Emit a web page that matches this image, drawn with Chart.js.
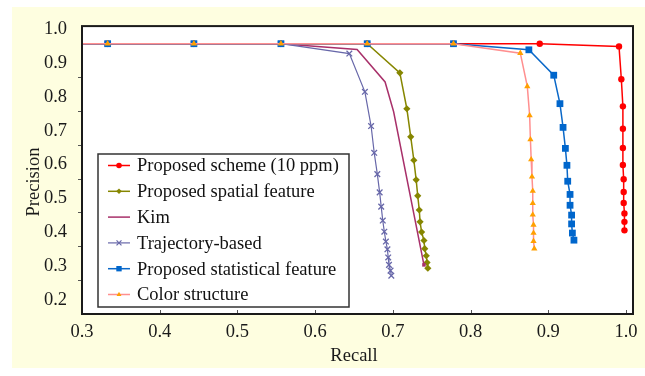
<!DOCTYPE html>
<html>
<head>
<meta charset="utf-8">
<script src="https://cdn.jsdelivr.net/npm/chart.js@4.4.0/dist/chart.umd.min.js"></script>
<style>
  html, body { margin: 0; padding: 0; background: #fff; }
  #wrap { position: relative; width: 645px; height: 376px; }
  #paper { position: absolute; left: 12px; top: 7px; width: 633px; height: 361px; background: #fefee0; }
  #chart { position: absolute; left: 0; top: 0; }
</style>
</head>
<body>
<div id="wrap">
  <div id="paper"></div>
  <canvas id="chart" width="645" height="376"></canvas>
</div>
<script>
// axis ticks
const xTicks = [0.3, 0.4, 0.5, 0.6, 0.7, 0.8, 0.9, 1.0];
const yTicks = [0.2, 0.3, 0.4, 0.5, 0.6, 0.7, 0.8, 0.9, 1.0];
const yMarks = [0.25, 0.35, 0.45, 0.55, 0.65, 0.75, 0.85];

// Proposed scheme (10 ppm)
const schemeRecall = [0.222, 0.333, 0.444, 0.556, 0.667, 0.778, 0.889, 0.991, 0.994, 0.996, 0.996, 0.996, 0.996, 0.997, 0.997, 0.997, 0.998, 0.998, 0.998];
const schemePrecision = [0.948, 0.948, 0.948, 0.948, 0.948, 0.948, 0.948, 0.940, 0.843, 0.763, 0.697, 0.640, 0.590, 0.548, 0.510, 0.478, 0.447, 0.422, 0.397];

// Proposed spatial feature
const spatialRecall = [0.222, 0.333, 0.444, 0.556, 0.667, 0.709, 0.718, 0.723, 0.727, 0.730, 0.732, 0.734, 0.735, 0.737, 0.740, 0.741, 0.743, 0.744, 0.745];
const spatialPrecision = [0.948, 0.948, 0.948, 0.948, 0.948, 0.862, 0.756, 0.673, 0.604, 0.546, 0.499, 0.457, 0.422, 0.392, 0.367, 0.343, 0.322, 0.302, 0.285];

// Kim
const kimRecall = [0.222, 0.333, 0.444, 0.556, 0.654, 0.690, 0.701, 0.740];
const kimPrecision = [0.948, 0.948, 0.948, 0.948, 0.931, 0.835, 0.747, 0.295];

// Trajectory-based
const trajRecall = [0.222, 0.333, 0.444, 0.556, 0.644, 0.664, 0.672, 0.676, 0.680, 0.683, 0.685, 0.687, 0.689, 0.691, 0.693, 0.694, 0.695, 0.697, 0.698];
const trajPrecision = [0.948, 0.948, 0.948, 0.948, 0.919, 0.806, 0.705, 0.626, 0.563, 0.509, 0.467, 0.426, 0.393, 0.364, 0.341, 0.317, 0.295, 0.278, 0.263];

// Proposed statistical feature
const statRecall = [0.222, 0.333, 0.444, 0.556, 0.667, 0.778, 0.875, 0.907, 0.915, 0.919, 0.922, 0.924, 0.925, 0.928, 0.928, 0.930, 0.930, 0.931, 0.933];
const statPrecision = [0.948, 0.948, 0.948, 0.948, 0.948, 0.948, 0.930, 0.855, 0.771, 0.701, 0.639, 0.589, 0.542, 0.503, 0.471, 0.442, 0.416, 0.389, 0.368];

// Color structure
const colorRecall = [0.222, 0.333, 0.444, 0.556, 0.667, 0.778, 0.864, 0.873, 0.876, 0.877, 0.878, 0.879, 0.880, 0.880, 0.880, 0.881, 0.881, 0.881, 0.882];
const colorPrecision = [0.948, 0.948, 0.948, 0.948, 0.948, 0.948, 0.920, 0.822, 0.736, 0.665, 0.606, 0.555, 0.513, 0.477, 0.443, 0.413, 0.389, 0.365, 0.343];

const serif = '"Liberation Serif", "Times New Roman", serif';
const fontSize = 18.5;

function pairs(xs, ys) {
    return xs.map((x, i) => ({ x: x, y: ys[i] }));
}

const datasets = [
    {
        label: 'Proposed scheme (10 ppm)',
        data: pairs(schemeRecall, schemePrecision),
        borderColor: '#ff0000', backgroundColor: '#ff0000',
        borderWidth: 1.5, pointStyle: 'circle', pointRadius: 3.2, pointBorderWidth: 0,
        order: 5
    },
    {
        label: 'Proposed spatial feature',
        data: pairs(spatialRecall, spatialPrecision),
        borderColor: '#868600', backgroundColor: '#868600',
        borderWidth: 1.5, pointStyle: 'rectRot', pointRadius: 3.6, pointBorderWidth: 0,
        order: 4
    },
    {
        label: 'Kim',
        data: pairs(kimRecall, kimPrecision),
        borderColor: '#a8306a', backgroundColor: '#a8306a',
        borderWidth: 1.5, pointStyle: 'rect',
        pointRadius: kimRecall.map((v, i) => i === kimRecall.length - 1 ? 2.5 : 0), pointBorderWidth: 0,
        order: 3
    },
    {
        label: 'Trajectory-based',
        data: pairs(trajRecall, trajPrecision),
        borderColor: '#6767a9', backgroundColor: '#6767a9',
        borderWidth: 1.2, pointStyle: 'crossRot', pointRadius: 4, pointBorderWidth: 1.3,
        order: 2
    },
    {
        label: 'Proposed statistical feature',
        data: pairs(statRecall, statPrecision),
        borderColor: '#0a68c8', backgroundColor: '#0066cc',
        borderWidth: 1.5, pointStyle: 'rect', pointRadius: 4.8, pointBorderWidth: 0,
        order: 1
    },
    {
        label: 'Color structure',
        data: pairs(colorRecall, colorPrecision),
        borderColor: '#ff8f8f', backgroundColor: '#ffa000',
        borderWidth: 1.5, pointStyle: 'triangle', pointRadius: 3.6, pointBorderWidth: 0,
        order: 0
    }
];

const frame = {
    id: 'frame',
    beforeDatasetsDraw(chart) {
        const a = chart.chartArea, c = chart.ctx;
        c.save();
        c.fillStyle = '#ffffff';
        c.fillRect(a.left, a.top, a.right - a.left, a.bottom - a.top);
        c.restore();
    },
    afterDraw(chart) {
        const a = chart.chartArea, c = chart.ctx;
        const xs = chart.scales.x, ys = chart.scales.y;
        c.save();
        // tick marks
        c.strokeStyle = '#555';
        c.lineWidth = 1;
        xTicks.slice(1).forEach(v => {
            const px = Math.round(xs.getPixelForValue(v)) + 0.5;
            c.beginPath(); c.moveTo(px, a.bottom); c.lineTo(px, a.bottom - 4); c.stroke();
        });
        yMarks.forEach(v => {
            const py = Math.round(ys.getPixelForValue(v)) + 0.5;
            c.beginPath(); c.moveTo(a.left, py); c.lineTo(a.left - 4, py); c.stroke();
        });
        // plot border
        c.strokeStyle = '#1a1a1a';
        c.lineWidth = 2;
        c.strokeRect(a.left, a.top, a.right - a.left, a.bottom - a.top);

        // axis titles
        c.fillStyle = '#1a1a1a';
        c.font = fontSize + 'px ' + serif;
        c.textAlign = 'center';
        c.textBaseline = 'middle';
        c.fillText('Recall', 354, 356);
        c.translate(34, 182);
        c.rotate(-Math.PI / 2);
        c.fillText('Precision', 0, 0);
        c.restore();

        // legend box
        c.save();
        const box = { left: 98, top: 154, right: 349, bottom: 307 };
        c.fillStyle = '#ffffff';
        c.fillRect(box.left, box.top, box.right - box.left, box.bottom - box.top);
        c.strokeStyle = '#333';
        c.lineWidth = 1.5;
        c.strokeRect(box.left, box.top, box.right - box.left, box.bottom - box.top);
        c.font = fontSize + 'px ' + serif;
        c.textAlign = 'left';
        c.textBaseline = 'middle';
        chart.data.datasets.forEach((ds, i) => {
            const y = 165.5 + i * 25.8;
            c.strokeStyle = ds.borderColor;
            c.lineWidth = ds.borderWidth;
            c.beginPath(); c.moveTo(108, y); c.lineTo(130, y); c.stroke();
            if (ds.label !== 'Kim') {
                c.fillStyle = ds.backgroundColor;
                c.strokeStyle = ds.backgroundColor;
                Chart.helpers.drawPoint(c, {
                    pointStyle: ds.pointStyle,
                    radius: ds.pointStyle === 'rect' ? 3.8 : (ds.pointStyle === 'crossRot' ? 3.5 : 2.8),
                    rotation: 0,
                    borderWidth: ds.pointStyle === 'crossRot' ? 1.2 : 0
                }, 119, y);
            }
            c.fillStyle = '#111';
            c.fillText(ds.label, 137, y + 1);
        });
        c.restore();
    }
};

new Chart(document.getElementById('chart').getContext('2d'), {
    type: 'line',
    data: { datasets: datasets },
    options: {
        responsive: false,
        animation: false,
        devicePixelRatio: 1,
        layout: { padding: { top: 26, right: 12, left: 0, bottom: 0 } },
        plugins: { legend: { display: false }, tooltip: { enabled: false } },
        elements: { line: { tension: 0 } },
        scales: {
            x: {
                type: 'linear', min: 0.3, max: 1.009,
                afterBuildTicks: s => { s.ticks = xTicks.map(v => ({ value: v })); },
                afterFit: s => { s.height = 62; },
                grid: { display: false, drawTicks: false },
                border: { display: false },
                ticks: {
                    padding: 7, color: '#1a1a1a', autoSkip: false, maxRotation: 0,
                    font: { family: serif, size: fontSize },
                    callback: v => v.toFixed(1)
                }
            },
            y: {
                type: 'linear', min: 0.15, max: 1.0,
                afterBuildTicks: s => { s.ticks = yTicks.map(v => ({ value: v })); },
                afterFit: s => { s.width = 82; },
                grid: { display: false, drawTicks: false },
                border: { display: false },
                ticks: {
                    padding: 15, labelOffset: 3, color: '#1a1a1a', autoSkip: false,
                    font: { family: serif, size: fontSize },
                    callback: v => v.toFixed(1)
                }
            }
        }
    },
    plugins: [frame]
});
</script>
</body>
</html>
